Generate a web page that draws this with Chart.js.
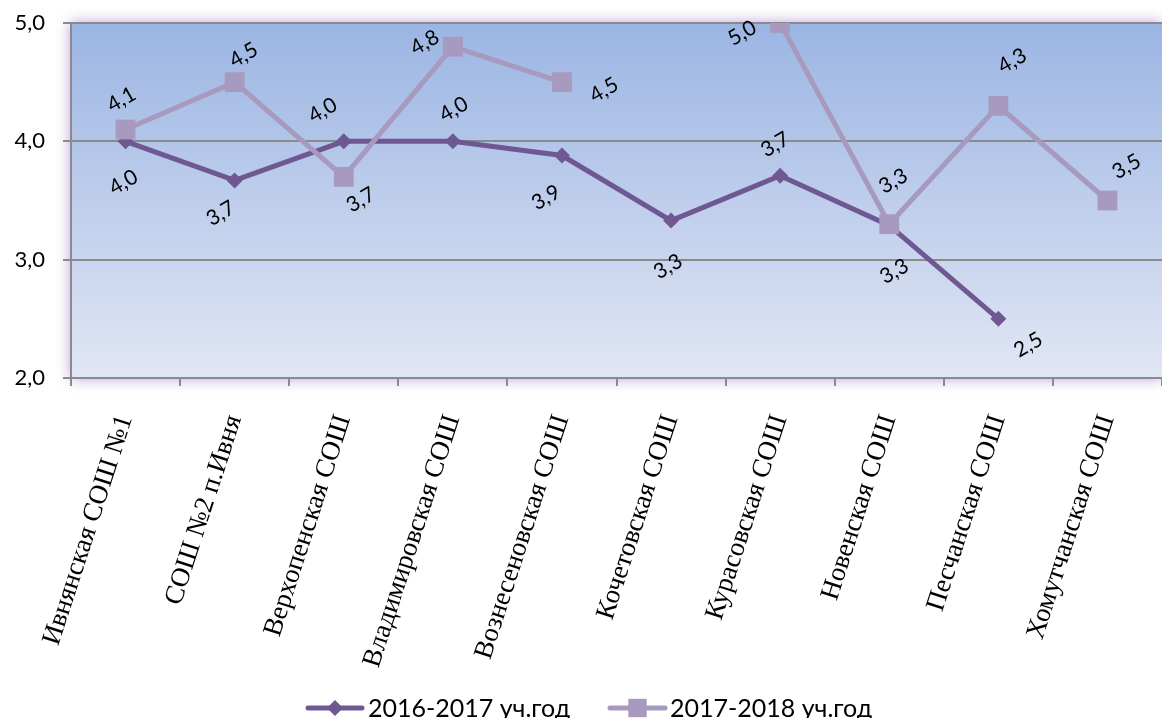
<!DOCTYPE html>
<html>
<head>
<meta charset="utf-8">
<script src="https://cdn.jsdelivr.net/npm/chart.js@4/dist/chart.umd.min.js"></script>
<style>
  html, body { margin: 0; padding: 0; background: #ffffff; overflow: hidden; }
  #wrap { width: 1162px; height: 718px; position: relative; }
</style>
</head>
<body>
<div id="wrap"><canvas id="c" width="1162" height="718"></canvas></div>
<script>
// ---- data ----
const categories = [
  'Ивнянская СОШ №1',
  'СОШ №2 п.Ивня',
  'Верхопенская СОШ',
  'Владимировская СОШ',
  'Вознесеновская СОШ',
  'Кочетовская СОШ',
  'Курасовская СОШ',
  'Новенская СОШ',
  'Песчанская СОШ',
  'Хомутчанская СОШ'
];
const seriesNames = ['2016-2017 уч.год', '2017-2018 уч.год'];
const values2016 = [4.0, 3.67, 4.0, 4.0, 3.88, 3.33, 3.71, 3.29, 2.5, null];
const values2018 = [4.1, 4.5, 3.7, 4.8, 4.5, null, 5.0, 3.3, 4.3, 3.5];
const yTicks = [2, 3, 4, 5];

// ---- styles ----
const colorDark = '#6f5892';
const colorLight = '#a899be';
// data-label offsets (pixels, relative to the point) for each series
const labelOffsets2016 = [[-2,41],[-14,33],[-21,-31],[1,-32],[-16,42],[-3,46],[-5,-31],[5,46],[30,26],null];
const labelOffsets2018 = [[-4,-30],[9,-27],[17,23],[-28,-4],[42,8],null,[-38,10],[4,-43],[14,-45],[19,-34]];

const fmt = v => Number(v).toFixed(1).replace('.', ',');

const bgPlugin = {
  id: 'bg',
  beforeDraw(chart) {
    const { ctx, chartArea: a } = chart;
    ctx.save();
    ctx.fillStyle = '#ffffff';
    ctx.fillRect(0, 0, chart.width, chart.height);
    const g = ctx.createLinearGradient(0, a.top, 0, a.bottom);
    g.addColorStop(0, '#9bb5e3');
    g.addColorStop(1, '#e1e6f4');
    ctx.shadowColor = 'rgba(170,130,210,0.85)';
    ctx.shadowBlur = 14;
    ctx.fillStyle = g;
    ctx.fillRect(a.left, a.top, a.right - a.left, a.bottom - a.top);
    ctx.shadowColor = 'transparent';
    ctx.fillRect(a.left, a.top, a.right - a.left, a.bottom - a.top);
    ctx.restore();
  }
};

const labelPlugin = {
  id: 'valueLabels',
  afterDatasetsDraw(chart) {
    const { ctx } = chart;
    const offsets = [labelOffsets2016, labelOffsets2018];
    ctx.save();
    ctx.font = '21px Lato, "Open Sans", sans-serif';
    ctx.fillStyle = '#000000';
    ctx.textAlign = 'center';
    ctx.textBaseline = 'middle';
    chart.data.datasets.forEach((ds, di) => {
      const meta = chart.getDatasetMeta(di);
      meta.data.forEach((el, i) => {
        const v = ds.data[i];
        if (v === null || v === undefined || el.skip) return;
        const off = offsets[di][i] || [0, -30];
        ctx.save();
        ctx.translate(el.x + off[0], el.y + off[1]);
        ctx.rotate(-30 * Math.PI / 180);
        ctx.fillText(fmt(v), 0, 0);
        ctx.restore();
      });
    });
    ctx.restore();
  }
};

const legendPlugin = {
  id: 'customLegend',
  afterDraw(chart) {
    const { ctx } = chart;
    const y = 708;
    const items = [
      { x0: 308, x1: 362, color: colorDark, style: 'rectRot', r: 8, text: seriesNames[0], tx: 368 },
      { x0: 610, x1: 665, color: colorLight, style: 'rect', r: 13, text: seriesNames[1], tx: 670 }
    ];
    ctx.save();
    items.forEach(it => {
      ctx.strokeStyle = it.color;
      ctx.lineWidth = 5;
      ctx.lineCap = 'round';
      ctx.beginPath();
      ctx.moveTo(it.x0, y);
      ctx.lineTo(it.x1, y);
      ctx.stroke();
      ctx.fillStyle = it.color;
      ctx.beginPath();
      const cx = (it.x0 + it.x1) / 2;
      if (it.style === 'rect') {
        const s = it.r * Math.SQRT1_2;
        ctx.rect(cx - s, y - s, 2 * s, 2 * s);
      } else {
        ctx.moveTo(cx, y - it.r); ctx.lineTo(cx + it.r, y);
        ctx.lineTo(cx, y + it.r); ctx.lineTo(cx - it.r, y);
        ctx.closePath();
      }
      ctx.fill();
      ctx.fillStyle = '#000000';
      ctx.font = '25px Lato, "Open Sans", sans-serif';
      ctx.textAlign = 'left';
      ctx.textBaseline = 'alphabetic';
      ctx.fillText(it.text, it.tx, 717);
    });
    ctx.restore();
  }
};

new Chart(document.getElementById('c'), {
  type: 'line',
  data: {
    labels: categories,
    datasets: [
      {
        label: seriesNames[0],
        data: values2016,
        borderColor: colorDark,
        backgroundColor: colorDark,
        borderWidth: 5,
        pointStyle: 'rectRot',
        pointRadius: 8,
        pointBorderWidth: 0,
        pointBackgroundColor: colorDark,
        spanGaps: false,
        tension: 0,
        order: 1
      },
      {
        label: seriesNames[1],
        data: values2018,
        borderColor: colorLight,
        backgroundColor: colorLight,
        borderWidth: 5,
        pointStyle: 'rect',
        pointRadius: 14,
        pointBorderWidth: 0,
        pointBackgroundColor: colorLight,
        spanGaps: false,
        tension: 0,
        order: 0
      }
    ]
  },
  options: {
    responsive: false,
    animation: false,
    layout: { autoPadding: false, padding: { top: 23, right: -3, left: 0, bottom: 0 } },
    plugins: {
      legend: { display: false },
      tooltip: { enabled: false }
    },
    scales: {
      x: {
        offset: true,
        grid: {
          offset: true,
          drawOnChartArea: false,
          drawTicks: true,
          tickLength: 8,
          color: '#8a8a8a',
          lineWidth: 2
        },
        border: { display: true, color: '#8a8a8a', width: 2 },
        ticks: {
          autoSkip: false,
          minRotation: 72,
          maxRotation: 72,
          padding: 25,
          color: '#000000',
          font: { family: '"Liberation Serif", "Times New Roman", serif', size: 27 }
        },
        afterFit(scale) {
          scale.height = 340;
          scale.paddingLeft = 0;
          scale.paddingRight = 0;
        }
      },
      y: {
        min: 2,
        max: 5,
        afterBuildTicks(scale) { scale.ticks = yTicks.map(v => ({ value: v })); },
        grid: {
          color: '#8a8a8a',
          lineWidth: 2,
          tickLength: 8,
          drawTicks: true
        },
        border: { display: true, color: '#8a8a8a', width: 2 },
        ticks: {
          padding: 18,
          color: '#000000',
          font: { family: 'Lato, "Open Sans", sans-serif', size: 22 },
          callback: v => fmt(v)
        },
        afterFit(scale) {
          scale.width = 71;
          scale.paddingTop = 0;
          scale.paddingBottom = 0;
        }
      }
    }
  },
  plugins: [bgPlugin, labelPlugin, legendPlugin]
});
</script>
</body>
</html>
